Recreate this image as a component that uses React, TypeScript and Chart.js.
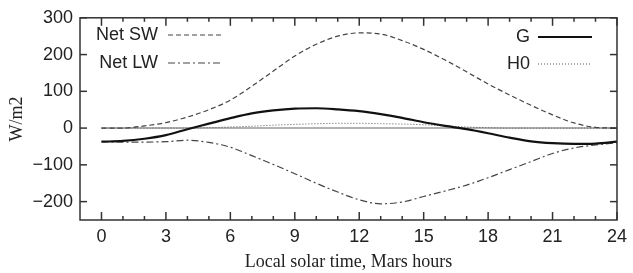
import React, { useEffect, useRef } from "react";
import { Chart, registerables } from "chart.js";

Chart.register(...registerables);

const hours = [0, 1, 2, 3, 4, 5, 6, 7, 8, 9, 10, 11, 12, 13, 14, 15, 16, 17, 18, 19, 20, 21, 22, 23, 24];
const netSW = [0, 0, 6, 15, 30, 50, 76, 114, 155, 196, 228, 250, 259, 256, 238, 214, 185, 153, 120, 90, 62, 36, 14, 2, 0];
const netLW = [-37, -38, -38, -37, -33, -39, -52, -75, -99, -124, -150, -174, -195, -206, -201, -186, -171, -155, -135, -113, -91, -69, -54, -46, -40];
const G = [-37, -35, -29, -19, -3, 12, 27, 40, 48, 53, 54, 51, 46, 38, 28, 16, 6, -3, -14, -26, -36, -41, -43, -42, -37];
const H0 = [0, 0, 0, 0, 0, 1, 3, 5, 8, 10, 12, 13, 13, 12, 11, 9, 6, 3, 1, 0, 0, 0, 0, 0, 0];
const zeroLine = hours.map(() => 0);
const xTickValues = [0, 3, 6, 9, 12, 15, 18, 21, 24];
const yTickValues = [-200, -100, 0, 100, 200, 300];
const xTitle = "Local solar time, Mars hours";
const yTitle = "W/m2";

const legendItems = [
  { label: "Net SW", ds: 0, textRight: 158, y: 35, x1: 168, x2: 223 },
  { label: "Net LW", ds: 1, textRight: 158, y: 63, x1: 168, x2: 223 },
  { label: "G", ds: 2, textRight: 530, y: 37, x1: 538, x2: 592 },
  { label: "H0", ds: 3, textRight: 530, y: 64, x1: 538, x2: 592 },
];

const framePlugin = {
  id: "frame",
  afterDatasetsDraw(chart: any) {
    const { ctx, chartArea, scales } = chart;
    const { left, right, top, bottom } = chartArea;
    const x = scales.x;
    const y = scales.y;
    ctx.save();
    ctx.strokeStyle = "#333";
    ctx.lineWidth = 1.5;
    ctx.setLineDash([]);
    ctx.strokeRect(left, top, right - left, bottom - top);
    const seg = (x1: number, y1: number, x2: number, y2: number) => {
      ctx.beginPath();
      ctx.moveTo(x1, y1);
      ctx.lineTo(x2, y2);
      ctx.stroke();
    };
    for (let h = 0; h <= 24; h++) {
      const px = x.getPixelForValue(h);
      const len = h % 3 === 0 ? 8 : 4;
      seg(px, bottom, px, bottom - len);
      seg(px, top, px, top + len);
    }
    for (const v of yTickValues) {
      const py = y.getPixelForValue(v);
      seg(left, py, left + 7, py);
      seg(right, py, right - 7, py);
    }
    // legend
    ctx.font = "18px 'Liberation Sans', Arial, sans-serif";
    ctx.fillStyle = "#222";
    ctx.textAlign = "right";
    ctx.textBaseline = "middle";
    for (const it of legendItems) {
      const d = chart.data.datasets[it.ds];
      ctx.fillText(it.label, it.textRight, it.y);
      ctx.strokeStyle = d.borderColor;
      ctx.lineWidth = d.borderWidth;
      ctx.setLineDash(d.borderDash || []);
      seg(it.x1, it.y, it.x2, it.y);
    }
    ctx.restore();
  },
};

export default function App() {
  const ref = useRef<HTMLCanvasElement>(null);
  useEffect(() => {
    if (!ref.current) return;
    const font = { family: "'Liberation Sans', Arial, sans-serif", size: 18 };
    const titleFont = { family: "'Liberation Serif', 'Times New Roman', serif", size: 18 };
    const chart = new Chart(ref.current, {
      type: "line",
      data: {
        datasets: [
          {
            label: "Net SW",
            data: hours.map((h, i) => ({ x: h, y: netSW[i] })),
            borderColor: "#444",
            borderWidth: 1.2,
            borderDash: [5, 3],
            pointRadius: 0,
            cubicInterpolationMode: "monotone",
            order: 1,
          },
          {
            label: "Net LW",
            data: hours.map((h, i) => ({ x: h, y: netLW[i] })),
            borderColor: "#444",
            borderWidth: 1.2,
            borderDash: [7, 3, 2, 3],
            pointRadius: 0,
            cubicInterpolationMode: "monotone",
            order: 1,
          },
          {
            label: "G",
            data: hours.map((h, i) => ({ x: h, y: G[i] })),
            borderColor: "#111",
            borderWidth: 2.2,
            pointRadius: 0,
            cubicInterpolationMode: "monotone",
            order: 0,
          },
          {
            label: "H0",
            data: hours.map((h, i) => ({ x: h, y: H0[i] })),
            borderColor: "#555",
            borderWidth: 1,
            borderDash: [1, 2],
            pointRadius: 0,
            cubicInterpolationMode: "monotone",
            order: 2,
          },
          {
            label: "zero",
            data: hours.map((h, i) => ({ x: h, y: zeroLine[i] })),
            borderColor: "#999",
            borderWidth: 1.5,
            pointRadius: 0,
            order: 10,
          },
        ],
      },
      options: {
        animation: false,
        responsive: false,
        layout: { padding: { top: 14, right: 11, left: 0, bottom: 0 } },
        plugins: { legend: { display: false }, tooltip: { enabled: false } },
        scales: {
          x: {
            type: "linear",
            min: -1,
            max: 24,
            afterBuildTicks: (s: any) => {
              s.ticks = xTickValues.map((v) => ({ value: v }));
            },
            afterFit: (s: any) => {
              s.height = 53;
            },
            grid: { display: false, drawTicks: false },
            border: { display: false },
            ticks: { font, color: "#222", padding: 6, maxRotation: 0, autoSkip: false },
            title: { display: true, text: xTitle, font: titleFont, color: "#222", padding: { top: 1, bottom: 0 } },
          },
          y: {
            type: "linear",
            min: -250,
            max: 300,
            afterBuildTicks: (s: any) => {
              s.ticks = yTickValues.map((v) => ({ value: v }));
            },
            afterFit: (s: any) => {
              s.width = 80;
            },
            grid: { display: false, drawTicks: false },
            border: { display: false },
            ticks: {
              font,
              color: "#222",
              padding: 7,
              callback: (v: any) => (Number(v) < 0 ? "\u2212" + Math.abs(Number(v)) : String(v)),
            },
            title: { display: true, text: yTitle, font: titleFont, color: "#222", padding: { top: 6, bottom: 0 } },
          },
        },
      },
      plugins: [framePlugin],
    } as any);
    return () => chart.destroy();
  }, []);
  return (
    <div style={{ position: "absolute", left: 0, top: 0, width: 633, height: 273, background: "#fff" }}>
      <canvas ref={ref} width={633} height={273} />
    </div>
  );
}
